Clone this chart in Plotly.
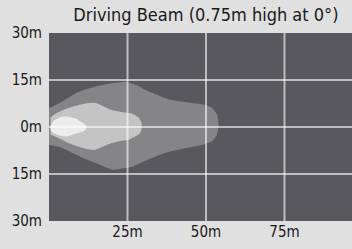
import plotly.graph_objects as go

# Beam contour data (distance ahead in m, lateral offset in m)
outer_x = [0, 4, 9, 15, 20, 25, 28, 31, 35, 39, 43, 47, 50, 52, 53.5, 54, 53.5, 52, 49, 45, 41, 37, 34, 30, 27, 25, 22, 20, 16, 12, 8, 4, 0]
outer_y = [6, 8, 11, 13, 14, 14.3, 13.3, 11.7, 10, 8.6, 8, 7.5, 7, 6, 4, 1, -2.5, -4.5, -5.7, -6.5, -7.3, -8.3, -9.4, -11, -12.5, -13, -13.5, -13.6, -12, -10.4, -8.5, -6.6, -5.7]

mid_x = [0.5, 2, 5, 8, 11.5, 14.6, 17, 20, 23, 26.3, 28.5, 29.5, 29.5, 29, 27, 25.3, 22, 20, 17, 14.6, 12, 9.2, 6, 3, 0.5]
mid_y = [3, 4.2, 5.6, 6.6, 7.5, 7.7, 6.8, 5.4, 4.8, 4.3, 3, 1.2, -0.5, -2, -3.3, -4.1, -4.6, -5.1, -6.3, -7.3, -7, -6.2, -5, -3.5, -2.5]

inner_x = [0.5, 1.5, 4, 6, 8.3, 10, 11.5, 12, 11.5, 10, 8, 5.6, 3.5, 1.5, 0.5]
inner_y = [0.5, 2, 3.2, 3.3, 2.8, 1.8, 0.8, 0, -1, -1.7, -2.3, -3, -2.7, -2, -1]

x_ticks = [25, 50, 75]
x_labels = ["25m", "50m", "75m"]
y_ticks = [-30, -15, 0, 15, 30]
y_labels = ["30m", "15m", "0m", "15m", "30m"]
x_max = 96.5

fig = go.Figure()
for xs, ys, col in [(outer_x, outer_y, "#858487"), (mid_x, mid_y, "#c4c4c4"), (inner_x, inner_y, "#ececec")]:
    fig.add_trace(go.Scatter(x=xs, y=ys, fill="toself", fillcolor=col, mode="lines",
                             line=dict(width=0, color=col, shape="spline", smoothing=0.6),
                             hoverinfo="skip", showlegend=False))

# gridlines drawn above the beam shapes
gx, gy = [], []
for t in x_ticks:
    gx += [t, t, None]
    gy += [-30, 30, None]
for t in y_ticks[1:-1]:
    gx += [0, x_max, None]
    gy += [t, t, None]
fig.add_trace(go.Scatter(x=gx, y=gy, mode="lines", line=dict(color="rgba(255,255,255,0.6)", width=2),
                         hoverinfo="skip", showlegend=False))

font_family = "Liberation Sans Narrow, DejaVu Sans Condensed, Arial Narrow, sans-serif"
fig.update_layout(
    width=352, height=249,
    margin=dict(l=49, r=0, t=33, b=28),
    paper_bgcolor="#e0e0e0",
    plot_bgcolor="#59585d",
    font=dict(family=font_family, size=15, color="#1a1a1a"),
    title=dict(text="Driving Beam (0.75m high at 0°)", x=0.585, xanchor="center", y=0.94, yanchor="middle",
               font=dict(family=font_family, size=18, color="#1a1a1a")),
    xaxis=dict(range=[0, x_max], tickvals=x_ticks, ticktext=x_labels, showgrid=False, zeroline=False,
               showline=False, ticks="", tickfont=dict(size=15), fixedrange=True),
    yaxis=dict(range=[-30, 30], tickvals=y_ticks, ticktext=y_labels, showgrid=False, zeroline=False,
               showline=False, ticks="", ticklabelstandoff=6, tickfont=dict(size=15), fixedrange=True),
)
fig.write_html("out.html", config={"displayModeBar": False},
               post_script="document.body.style.margin='0';document.body.style.overflow='hidden';document.body.style.background='#e0e0e0';")
